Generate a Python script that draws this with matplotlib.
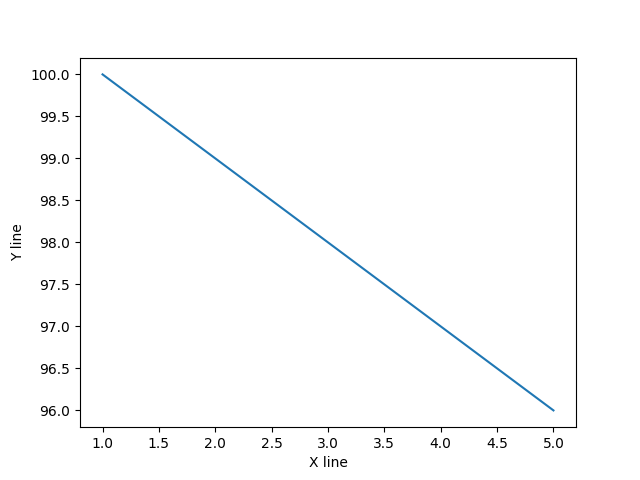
import matplotlib
matplotlib.use('Agg')
import matplotlib.pyplot as plt

# data
x = [1, 2, 3, 4, 5]
y = [100, 99, 98, 97, 96]

plt.figure(figsize=(6.4, 4.8), dpi=100)
plt.plot(x, y)
plt.xlabel('X line')
plt.ylabel('Y line')
plt.savefig('out.png')
